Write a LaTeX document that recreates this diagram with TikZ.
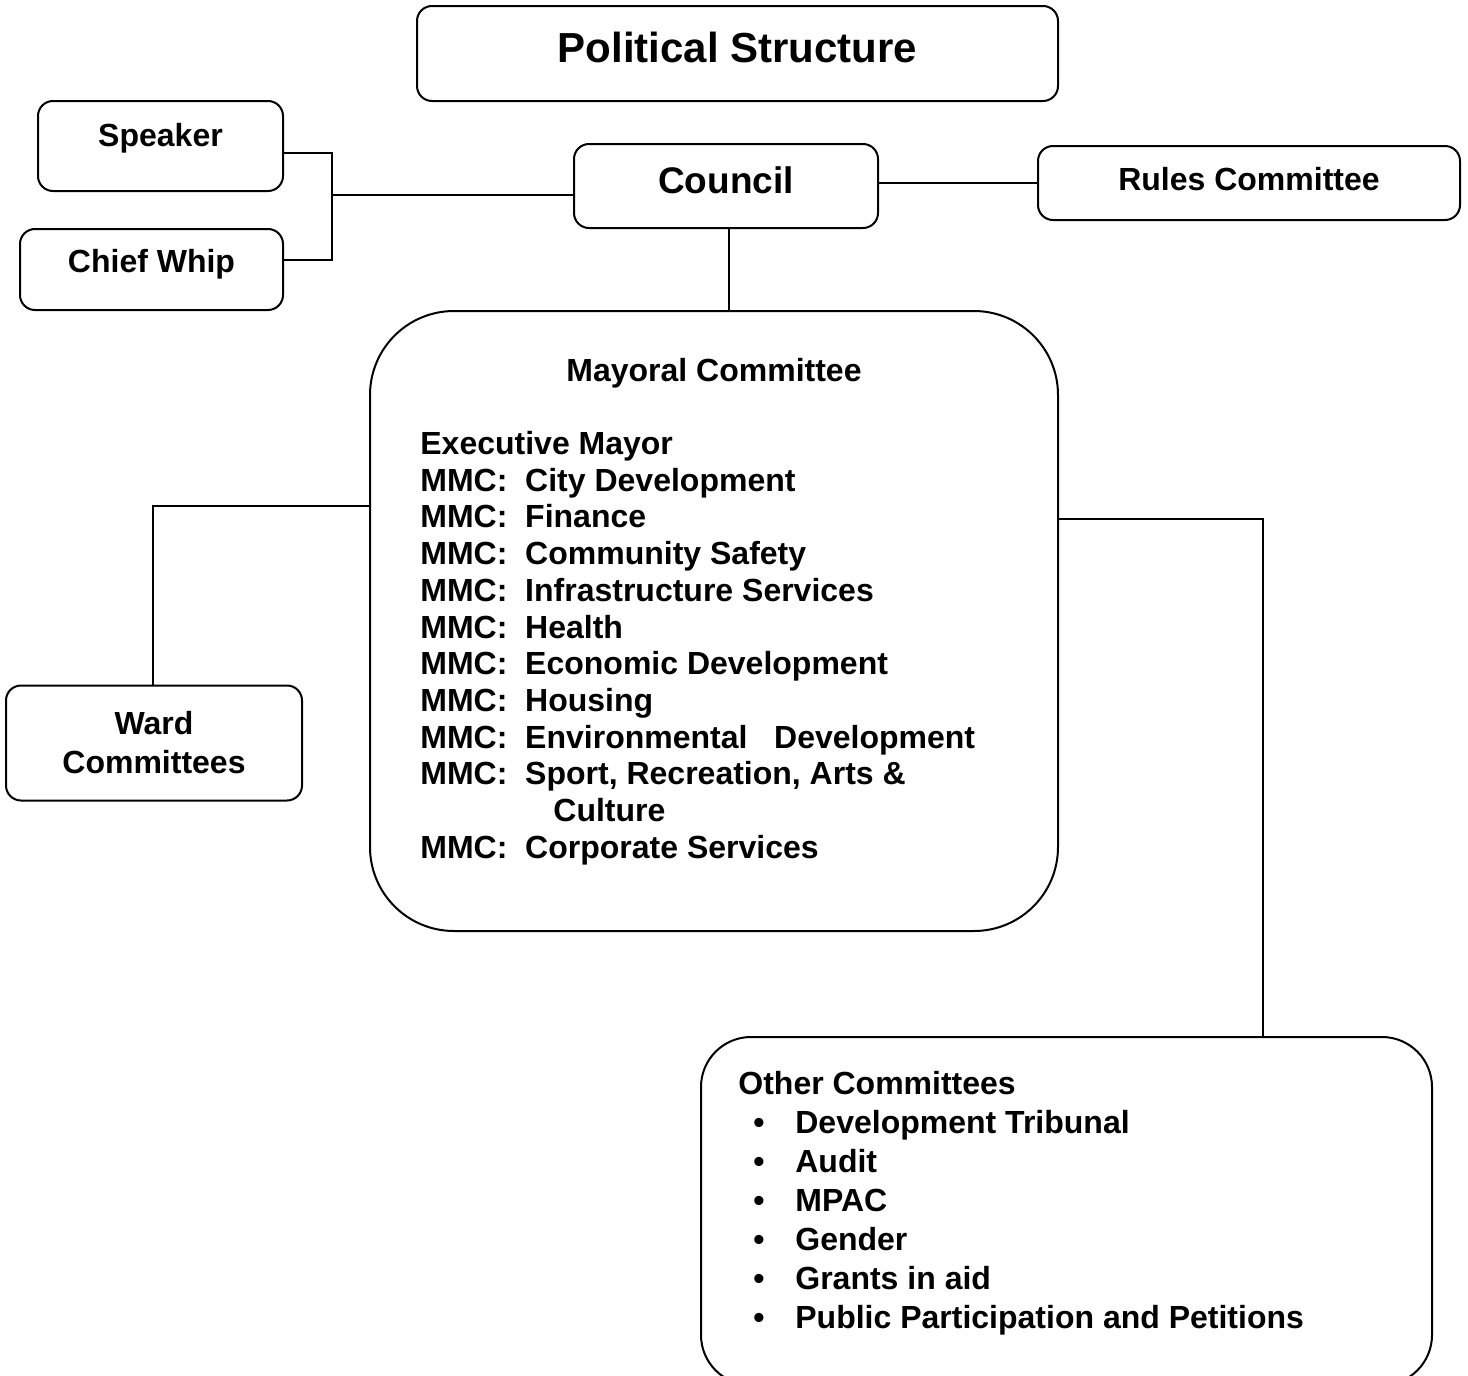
\documentclass[tikz,border=0pt]{standalone}
\usepackage{fontspec}
\setmainfont{Liberation Sans}
\usetikzlibrary{positioning, calc}

\begin{document}
\begin{tikzpicture}[
        x=0.5pt, y=-0.5pt,
        box/.style={rectangle, draw, line width=1pt, rounded corners=7.5pt, align=center, inner sep=0pt, font=\bfseries\fontsize{16}{19.5}\selectfont},
        bigbox/.style={rectangle, draw, line width=1pt, inner sep=0pt},
        listtext/.style={anchor=north west, align=left, inner sep=0pt},
        link/.style={line width=1pt}
    ]
    \useasboundingbox (0,0) rectangle (1468,1376);

    \node (title) [box, minimum width=320.5pt, minimum height=47.5pt, text depth=6.5pt, font=\bfseries\fontsize{21}{25}\selectfont] at (737.5,53.5) {Political Structure};
    \node (speaker) [box, minimum width=122.5pt, minimum height=45pt, text depth=11.2pt] at (160.5,146) {Speaker};
    \node (whip) [box, minimum width=131.5pt, minimum height=40.5pt, text depth=8.7pt] at (151.5,269.5) {Chief Whip};
    \node (council) [box, minimum width=152pt, minimum height=42pt, text depth=6pt, font=\bfseries\fontsize{18.5}{22}\selectfont] at (726,186) {Council};
    \node (rules) [box, minimum width=211pt, minimum height=37pt, text depth=4pt] at (1249,183) {Rules Committee};
    \node (ward) [box, minimum width=148pt, minimum height=57.5pt] at (154,743) {Ward\\Committees};

    \node (mayoral) [bigbox, rounded corners=42pt, minimum width=344pt, minimum height=310pt] at (714,621) {};
    \node (mayoraltitle) [anchor=base, font=\bfseries\fontsize{16}{19}\selectfont] at (714,381.5) {Mayoral Committee};
    \node (mmclist) [listtext, font=\bfseries\fontsize{16}{18.35}\selectfont] at (420,431) {Executive Mayor\\
        MMC:\ \ City Development\\
        MMC:\ \ Finance\\
        MMC:\ \ Community Safety\\
        MMC:\ \ Infrastructure Services\\
        MMC:\ \ Health\\
        MMC:\ \ Economic Development\\
        MMC:\ \ Housing\\
        MMC:\ \ Environmental\ \ \ Development\\
        MMC:\ \ Sport, Recreation, Arts \&\\
        \hspace*{66.5pt}Culture\\
        MMC:\ \ Corporate Services};

    \node (other) [bigbox, rounded corners=25pt, minimum width=365.5pt, minimum height=174pt] at (1066.5,1211) {};
    \node (otherlist) [listtext, font=\bfseries\fontsize{16}{19.5}\selectfont] at (738,1071) {Other Committees\\
        \hspace*{7.5pt}\makebox[21pt][l]{\textbullet}Development Tribunal\\
        \hspace*{7.5pt}\makebox[21pt][l]{\textbullet}Audit\\
        \hspace*{7.5pt}\makebox[21pt][l]{\textbullet}MPAC\\
        \hspace*{7.5pt}\makebox[21pt][l]{\textbullet}Gender\\
        \hspace*{7.5pt}\makebox[21pt][l]{\textbullet}Grants in aid\\
        \hspace*{7.5pt}\makebox[21pt][l]{\textbullet}Public Participation and Petitions};

    % joints of the connectors
    \coordinate (leftjoin) at (332,195);
    \coordinate (wardjoin) at (153,506);
    \coordinate (otherjoin) at (1263,519);

    \draw[link] ([yshift=-3.5pt]speaker.east) -| (leftjoin);
    \draw[link] ([yshift=4.75pt]whip.east) -| (leftjoin);
    \draw[link] (leftjoin) -- (leftjoin -| council.west);
    \draw[link] (council.east |- rules.west) -- (rules.west);
    \draw[link] ([xshift=1.5pt]council.south) -- ([xshift=1.5pt]council.south |- mayoral.north);
    \draw[link] (mayoral.west |- wardjoin) -- (wardjoin) -- (ward.north -| wardjoin);
    \draw[link] (mayoral.east |- otherjoin) -- (otherjoin) -- (other.north -| otherjoin);

\end{tikzpicture}
\end{document}
